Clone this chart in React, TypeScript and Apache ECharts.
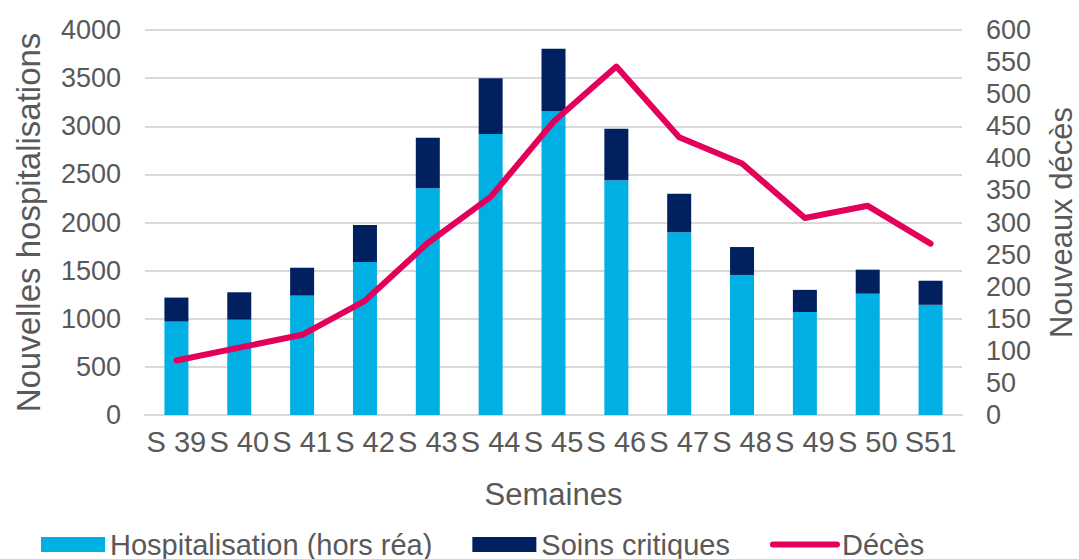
import React, { useEffect, useRef } from "react";
import * as echarts from "echarts";

const weeks = ["S 39", "S 40", "S 41", "S 42", "S 43", "S 44", "S 45", "S 46", "S 47", "S 48", "S 49", "S 50", "S51"];
const hospHorsRea = [970, 990, 1240, 1590, 2355, 2920, 3155, 2440, 1900, 1455, 1070, 1260, 1145];
const soinsCritiques = [250, 285, 290, 385, 525, 580, 650, 535, 400, 290, 230, 250, 250];
const deces = [85, 105, 125, 178, 268, 340, 457, 543, 433, 392, 307, 326, 267];

const TEXT = "#595959";
const FONT = "Liberation Sans, Arial, sans-serif";

export default function App() {
  const ref = useRef<HTMLDivElement>(null);
  useEffect(() => {
    if (!ref.current) return;
    const chart = echarts.init(ref.current, null, { renderer: "svg" });
    chart.setOption({
      animation: false,
      textStyle: { fontFamily: FONT, color: TEXT },
      grid: { left: 145, right: 117, top: 30, bottom: 144, containLabel: false, outerBoundsMode: "none" },
      legend: {
        left: 36,
        top: 525,
        itemWidth: 64,
        itemHeight: 15,
        itemGap: 40,
        textStyle: { fontSize: 29, color: TEXT, fontFamily: FONT },
        data: [
          { name: "Hospitalisation (hors réa)", icon: "rect" },
          { name: "Soins critiques", icon: "rect" },
          {
            name: "Décès",
            itemStyle: { color: "rgba(0,0,0,0)", borderWidth: 0, opacity: 0 },
            lineStyle: { width: 6, cap: "round", color: "#E4005A" },
          },
        ],
      },
      xAxis: {
        type: "category",
        data: weeks,
        name: "Semaines",
        nameLocation: "middle",
        nameGap: 64,
        nameTextStyle: { fontSize: 31, color: TEXT, fontFamily: FONT },
        axisLine: { show: true, lineStyle: { color: "#D9D9D9", width: 2 } },
        axisTick: { show: false },
        axisLabel: { fontSize: 29, color: TEXT, margin: 12, interval: 0, fontFamily: FONT },
      },
      yAxis: [
        {
          type: "value",
          min: 0,
          max: 4000,
          interval: 500,
          name: "Nouvelles hospitalisations",
          nameLocation: "middle",
          nameRotate: 90,
          nameGap: 100,
          nameTextStyle: { fontSize: 33, color: TEXT, fontFamily: FONT },
          axisLine: { show: false },
          axisTick: { show: false },
          axisLabel: { fontSize: 27, color: TEXT, margin: 24, fontFamily: FONT, formatter: (v: number) => String(v) },
          splitLine: { show: true, lineStyle: { color: "#D9D9D9", width: 2 } },
        },
        {
          type: "value",
          min: 0,
          max: 600,
          interval: 50,
          position: "right",
          name: "Nouveaux décès",
          nameLocation: "middle",
          nameRotate: 90,
          nameGap: 84,
          nameTextStyle: { fontSize: 31, color: TEXT, fontFamily: FONT },
          axisLine: { show: false },
          axisTick: { show: false },
          axisLabel: { fontSize: 27, color: TEXT, margin: 24, fontFamily: FONT, formatter: (v: number) => String(v) },
          splitLine: { show: false },
        },
      ],
      series: [
        {
          name: "Hospitalisation (hors réa)",
          type: "bar",
          stack: "h",
          barWidth: 24,
          data: hospHorsRea,
          itemStyle: { color: "#00B0E4" },
        },
        {
          name: "Soins critiques",
          type: "bar",
          stack: "h",
          barWidth: 24,
          data: soinsCritiques,
          itemStyle: { color: "#00205F" },
        },
        {
          name: "Décès",
          type: "line",
          yAxisIndex: 1,
          data: deces,
          symbol: "none",
          lineStyle: { color: "#E4005A", width: 6, cap: "round", join: "round" },
          itemStyle: { color: "#E4005A" },
        },
      ],
    });
    return () => chart.dispose();
  }, []);
  return <div ref={ref} style={{ position: "absolute", left: 0, top: 0, width: 1079, height: 559 }} />;
}
